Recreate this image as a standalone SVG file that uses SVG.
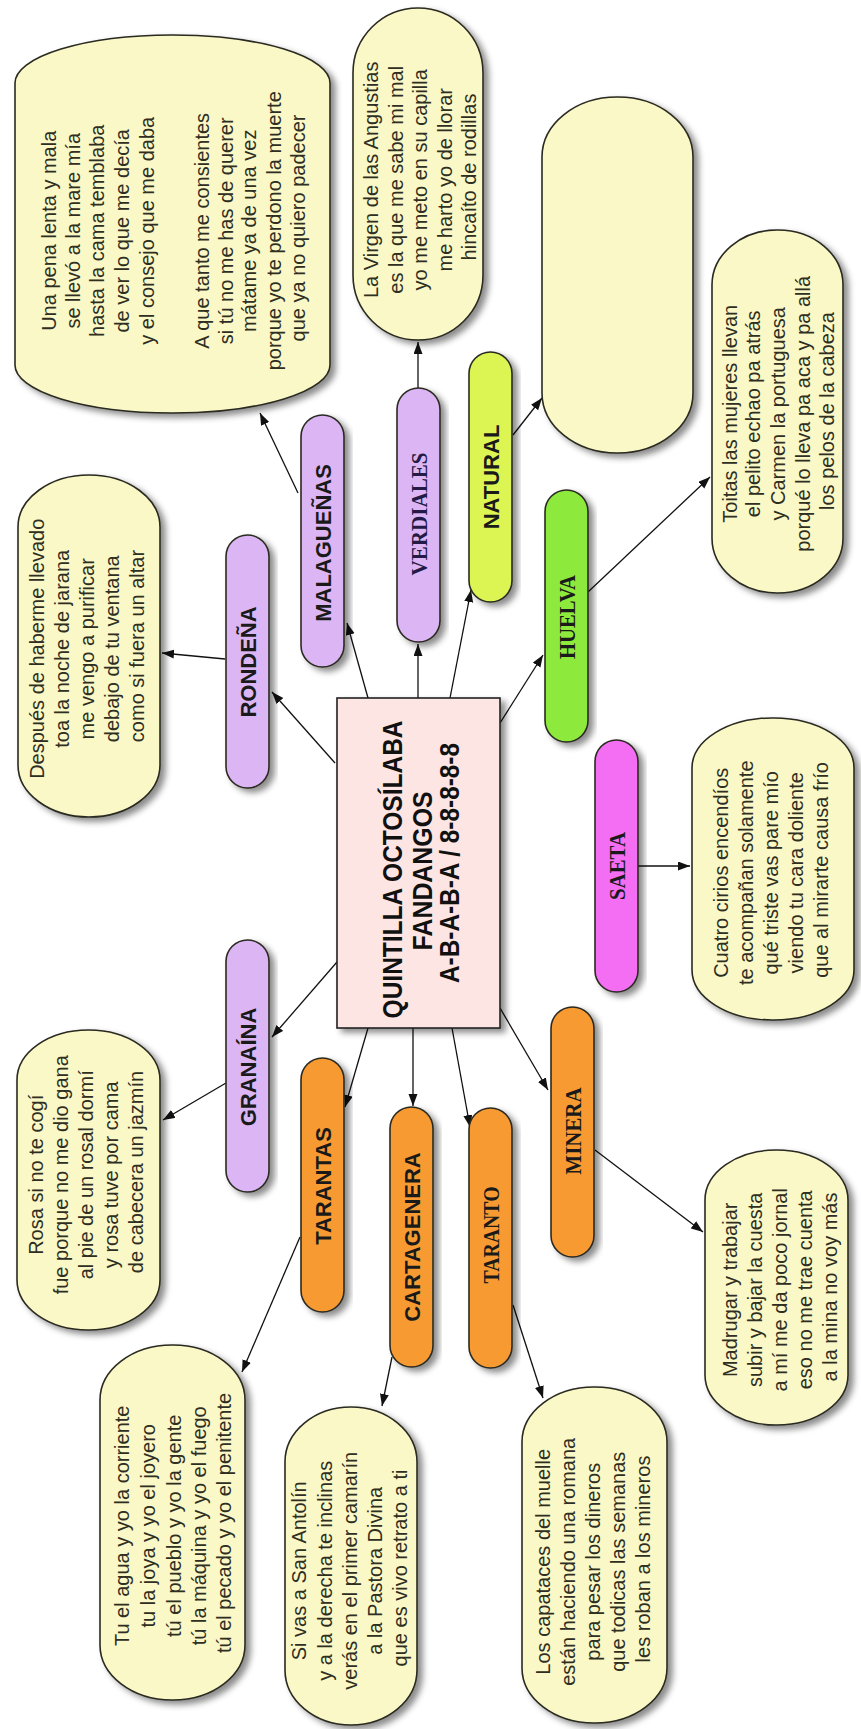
<svg xmlns="http://www.w3.org/2000/svg" width="861" height="1729" viewBox="0 0 861 1729">
<defs>
<filter id="sh" x="-20%" y="-20%" width="140%" height="140%">
<feDropShadow dx="5" dy="4" stdDeviation="3" flood-color="#000" flood-opacity="0.45"/>
</filter>
<marker id="ah" markerUnits="userSpaceOnUse" markerWidth="13" markerHeight="10" refX="12" refY="4.5" orient="auto">
<path d="M0,0 L12,4.5 L0,9 z" fill="#111"/>
</marker>
<style>
.box{fill:#FAF8C6;stroke:#2a2a20;stroke-width:1.6;filter:url(#sh)}
.pill{stroke:#2a2a20;stroke-width:1.6;filter:url(#sh)}
.lav{fill:#DCB6F4}.lime{fill:#DCF552}.grn{fill:#8DEA3C}.mag{fill:#F46EF4}.org{fill:#F89A33}
.center{fill:#FCE5E3;stroke:#222;stroke-width:1.6;filter:url(#sh)}
.t{font-family:"Liberation Sans",Arial,sans-serif;font-size:20px;fill:#2e2e22;text-anchor:middle}
.ls{font-family:"Liberation Sans",Arial,sans-serif;font-size:22px;font-weight:bold;fill:#1a1a1a;text-anchor:middle}
.lr{font-family:"Liberation Serif","Times New Roman",serif;font-size:23px;font-weight:bold;fill:#1a1a1a;text-anchor:middle}
.ct{font-family:"Liberation Sans",Arial,sans-serif;font-size:28px;font-weight:bold;fill:#111;text-anchor:middle}
.c{stroke:#111;stroke-width:1.3;fill:none;marker-end:url(#ah)}
</style>
</defs>

<g id="connectors">
<line class="c" x1="335" y1="763" x2="272" y2="692"/>
<line class="c" x1="225" y1="659" x2="162" y2="653"/>
<line class="c" x1="368" y1="698" x2="347" y2="623"/>
<line class="c" x1="298" y1="493" x2="260" y2="413"/>
<line class="c" x1="418" y1="698" x2="418" y2="644"/>
<line class="c" x1="418" y1="388" x2="418" y2="342"/>
<line class="c" x1="450" y1="698" x2="471" y2="590"/>
<line class="c" x1="513" y1="435" x2="542" y2="398"/>
<line class="c" x1="500" y1="723" x2="543" y2="655"/>
<line class="c" x1="588" y1="592" x2="710" y2="477"/>
<line class="c" x1="638" y1="866" x2="690" y2="866"/>
<line class="c" x1="500" y1="1008" x2="548" y2="1090"/>
<line class="c" x1="595" y1="1150" x2="703" y2="1232"/>
<line class="c" x1="452" y1="1028" x2="470" y2="1127"/>
<line class="c" x1="513" y1="1305" x2="543" y2="1398"/>
<line class="c" x1="413" y1="1028" x2="413" y2="1106"/>
<line class="c" x1="392" y1="1357" x2="382" y2="1406"/>
<line class="c" x1="368" y1="1028" x2="345" y2="1107"/>
<line class="c" x1="300" y1="1237" x2="242" y2="1372"/>
<line class="c" x1="337" y1="962" x2="272" y2="1037"/>
<line class="c" x1="226" y1="1083" x2="163" y2="1120"/>
</g>

<g id="central">
<rect class="center" x="337" y="698" width="163" height="330"/>
<text class="ct" transform="rotate(-90)">
<tspan x="-866" y="402" textLength="297" lengthAdjust="spacingAndGlyphs">QUINTILLA OCTOSÍLABA</tspan>
<tspan x="-867" y="432" textLength="159" lengthAdjust="spacingAndGlyphs">FANDANGOS</tspan>
<tspan x="-863" y="459" textLength="240" lengthAdjust="spacingAndGlyphs">A-B-A-B-A / 8-8-8-8-8</tspan>
</text>
</g>

<g id="rondena">
<rect class="pill lav" x="226" y="535" width="43" height="253" rx="21.5" ry="21.5"/>
<text class="ls" transform="rotate(-90)" x="-662" y="256">RONDEÑA</text>
</g>
<g id="rondena-text">
<rect class="box" x="18" y="475" width="142" height="342" rx="71" ry="52"/>
<text class="t" transform="rotate(-90)">
<tspan x="-646" y="44">Después de haberme llevado</tspan>
<tspan x="-646" y="69">toa la noche de jarana</tspan>
<tspan x="-646" y="94">me vengo a purificar</tspan>
<tspan x="-646" y="119">debajo de tu ventana</tspan>
<tspan x="-646" y="144">como si fuera un altar</tspan>
</text>
</g>

<g id="malaguenas">
<rect class="pill lav" x="301" y="415" width="43" height="252" rx="21.5" ry="21.5"/>
<text class="ls" transform="rotate(-90)" x="-543" y="331">MALAGUEÑAS</text>
</g>
<g id="malaguenas-text">
<rect class="box" x="15" y="35" width="315" height="378" rx="157" ry="48"/>
<text class="t" transform="rotate(-90)">
<tspan x="-228" y="56">Una pena lenta y mala</tspan>
<tspan x="-228" y="80">se llevó a la mare mía</tspan>
<tspan x="-228" y="104">hasta la cama temblaba</tspan>
<tspan x="-228" y="129">de ver lo que me decía</tspan>
<tspan x="-228" y="154">y el consejo que me daba</tspan>
<tspan x="-228" y="209">A que tanto me consientes</tspan>
<tspan x="-228" y="233">si tú no me has de querer</tspan>
<tspan x="-228" y="256">mátame ya de una vez</tspan>
<tspan x="-228" y="281">porque yo te perdono la muerte</tspan>
<tspan x="-228" y="305">que ya no quiero padecer</tspan>
</text>
</g>

<g id="verdiales">
<rect class="pill lav" x="397" y="388" width="43" height="254" rx="21.5" ry="21.5"/>
<text class="lr" transform="rotate(-90)" x="-514" y="426.5" style="fill:#231a45" textLength="123" lengthAdjust="spacingAndGlyphs">VERDIALES</text>
</g>
<g id="verdiales-text">
<rect class="box" x="353" y="8" width="130" height="332" rx="65" ry="65"/>
<text class="t" transform="rotate(-90)">
<tspan x="-177" y="378">La Virgen de las Angustias</tspan>
<tspan x="-177" y="403">es la que me sabe mi mal</tspan>
<tspan x="-177" y="427">yo me meto en su capilla</tspan>
<tspan x="-177" y="452">me harto yo de llorar</tspan>
<tspan x="-177" y="476">hincaíto de rodillas</tspan>
</text>
</g>

<g id="natural">
<rect class="pill lime" x="469" y="352" width="43" height="250" rx="21.5" ry="21.5"/>
<text class="ls" transform="rotate(-90)" x="-477" y="498.5">NATURAL</text>
</g>
<g id="natural-text">
<rect class="box" x="542" y="97" width="151" height="356" rx="75" ry="60"/>
</g>

<g id="huelva">
<rect class="pill grn" x="545" y="490" width="43" height="252" rx="21.5" ry="21.5"/>
<text class="lr" transform="rotate(-90)" x="-617" y="574.5" textLength="84" lengthAdjust="spacingAndGlyphs">HUELVA</text>
</g>
<g id="huelva-text">
<rect class="box" x="712" y="230" width="131" height="363" rx="65" ry="55"/>
<text class="t" transform="rotate(-90)">
<tspan x="-411" y="737">Toitas las mujeres llevan</tspan>
<tspan x="-411" y="760">el pelito echao pa atrás</tspan>
<tspan x="-411" y="785">y Carmen la portuguesa</tspan>
<tspan x="-411" y="810">porqué lo lleva pa aca y pa allá</tspan>
<tspan x="-411" y="834">los pelos de la cabeza</tspan>
</text>
</g>

<g id="saeta">
<rect class="pill mag" x="595" y="740" width="43" height="252" rx="21.5" ry="21.5"/>
<text class="lr" transform="rotate(-90)" x="-866" y="624.5" textLength="68" lengthAdjust="spacingAndGlyphs">SAETA</text>
</g>
<g id="saeta-text">
<rect class="box" x="692" y="718" width="162" height="302" rx="80" ry="50"/>
<text class="t" transform="rotate(-90)">
<tspan x="-870" y="728">Cuatro cirios encendíos</tspan>
<tspan x="-870" y="753">te acompañan solamente</tspan>
<tspan x="-870" y="778">qué triste vas pare mío</tspan>
<tspan x="-870" y="803">viendo tu cara doliente</tspan>
<tspan x="-870" y="828">que al mirarte causa frío</tspan>
</text>
</g>

<g id="minera">
<rect class="pill org" x="551" y="1007" width="43" height="250" rx="21.5" ry="21.5"/>
<text class="lr" transform="rotate(-90)" x="-1131" y="580.5" textLength="87" lengthAdjust="spacingAndGlyphs">MINERA</text>
</g>
<g id="minera-text">
<rect class="box" x="705" y="1150" width="143" height="275" rx="71" ry="50"/>
<text class="t" transform="rotate(-90)">
<tspan x="-1287" y="737">Madrugar y trabajar</tspan>
<tspan x="-1287" y="762">subir y bajar la cuesta</tspan>
<tspan x="-1287" y="787">a mí me da poco jornal</tspan>
<tspan x="-1287" y="812">eso no me trae cuenta</tspan>
<tspan x="-1287" y="837">a la mina no voy más</tspan>
</text>
</g>

<g id="taranto">
<rect class="pill org" x="469" y="1108" width="43" height="260" rx="21.5" ry="21.5"/>
<text class="lr" transform="rotate(-90)" x="-1235" y="498.5" textLength="97" lengthAdjust="spacingAndGlyphs">TARANTO</text>
</g>
<g id="taranto-text">
<rect class="box" x="522" y="1387" width="145" height="336" rx="72" ry="55"/>
<text class="t" transform="rotate(-90)">
<tspan x="-1559" y="550">Los capataces del muelle</tspan>
<tspan x="-1559" y="575">están haciendo una romana</tspan>
<tspan x="-1559" y="600">para pesar los dineros</tspan>
<tspan x="-1559" y="625">que todicas las semanas</tspan>
<tspan x="-1559" y="650">les roban a los mineros</tspan>
</text>
</g>

<g id="cartagenera">
<rect class="pill org" x="390" y="1107" width="43" height="260" rx="21.5" ry="21.5"/>
<text class="ls" transform="rotate(-90)" x="-1237" y="419.5">CARTAGENERA</text>
</g>
<g id="cartagenera-text">
<rect class="box" x="285" y="1407" width="132" height="318" rx="66" ry="55"/>
<text class="t" transform="rotate(-90)">
<tspan x="-1568" y="306">Si vas a San Antolín</tspan>
<tspan x="-1568" y="332">y a la derecha te inclinas</tspan>
<tspan x="-1568" y="357">verás en el primer camarín</tspan>
<tspan x="-1568" y="382">a la Pastora Divina</tspan>
<tspan x="-1568" y="407">que es vivo retrato a ti</tspan>
</text>
</g>

<g id="tarantas">
<rect class="pill org" x="301" y="1058" width="43" height="254" rx="21.5" ry="21.5"/>
<text class="ls" transform="rotate(-90)" x="-1186" y="331">TARANTAS</text>
</g>
<g id="tarantas-text">
<rect class="box" x="100" y="1345" width="145" height="355" rx="72" ry="55"/>
<text class="t" transform="rotate(-90)">
<tspan x="-1523" y="129">Tu el agua y yo la corriente</tspan>
<tspan x="-1523" y="155">tu la joya y yo el joyero</tspan>
<tspan x="-1523" y="181">tú el pueblo y yo la gente</tspan>
<tspan x="-1523" y="206">tú la máquina y yo el fuego</tspan>
<tspan x="-1523" y="231">tú el pecado y yo el penitente</tspan>
</text>
</g>

<g id="granaina">
<rect class="pill lav" x="226" y="940" width="43" height="252" rx="21.5" ry="21.5"/>
<text class="ls" transform="rotate(-90)" x="-1067" y="256">GRANAÍNA</text>
</g>
<g id="granaina-text">
<rect class="box" x="17" y="1030" width="143" height="300" rx="71" ry="50"/>
<text class="t" transform="rotate(-90)">
<tspan x="-1172" y="43">Rosa si no te cogí</tspan>
<tspan x="-1172" y="68">fue porque no me dio gana</tspan>
<tspan x="-1172" y="93">al pie de un rosal dormí</tspan>
<tspan x="-1172" y="118">y rosa tuve por cama</tspan>
<tspan x="-1172" y="143">de cabecera un jazmín</tspan>
</text>
</g>
</svg>
